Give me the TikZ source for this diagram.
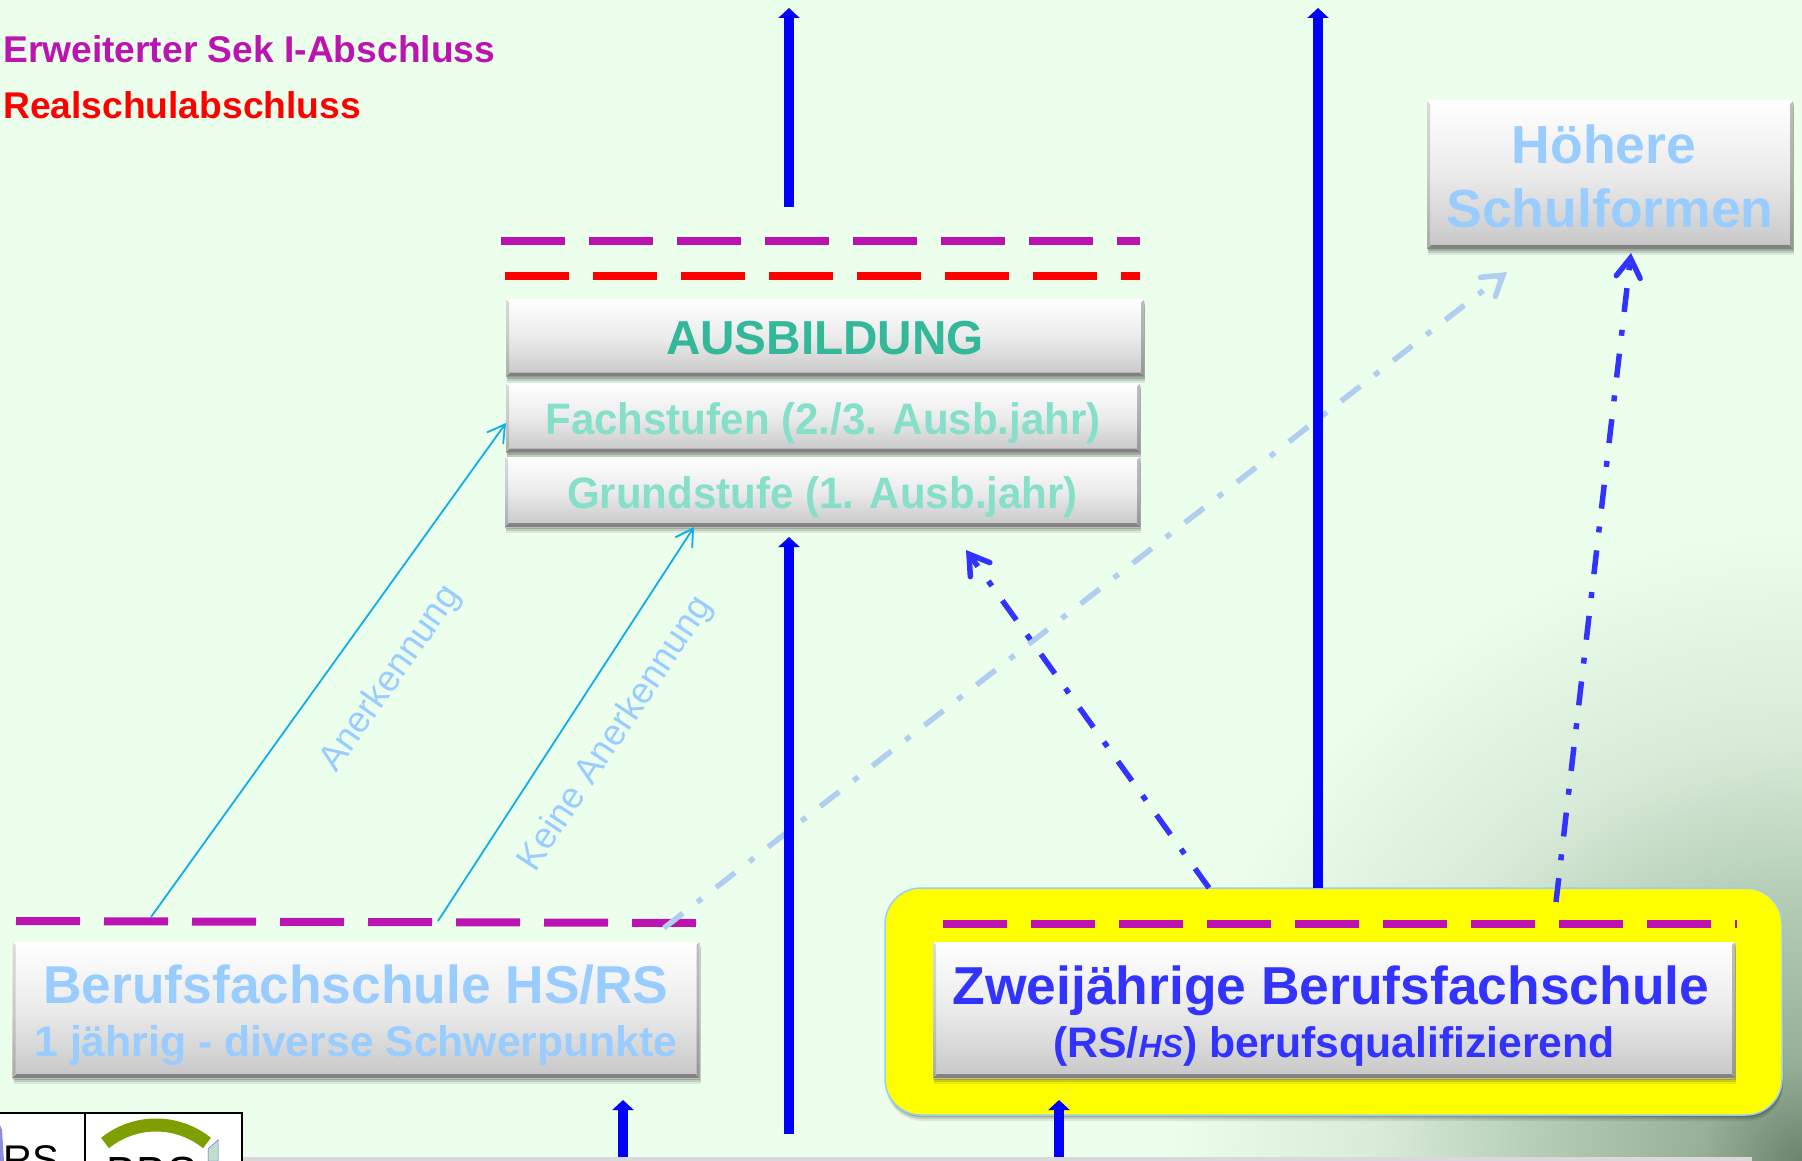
\documentclass[tikz,border=0pt]{standalone}
\usepackage{graphicx}
\usepackage{fontspec}
\setmainfont{Liberation Sans}
\usetikzlibrary{arrows.meta,shadows}
\definecolor{bgc}{HTML}{ECFFEC}
\definecolor{sA}{HTML}{6B836C}
\definecolor{sB}{HTML}{96AF97}
\definecolor{sC}{HTML}{B8D0B9}
\definecolor{sD}{HTML}{D8EBD8}
\definecolor{purp}{HTML}{BC14B0}
\definecolor{lblue}{HTML}{99CCFF}
\definecolor{dblue}{HTML}{3333FF}
\definecolor{pureblue}{HTML}{0000FF}
\definecolor{purered}{HTML}{FF0000}
\definecolor{yelfill}{HTML}{FFFF00}
\definecolor{paleline}{HTML}{B0CEF0}
\definecolor{cyanl}{HTML}{10AEE8}
\definecolor{teal}{HTML}{33B89A}
\definecolor{lteal}{HTML}{86DFC9}
\definecolor{olive}{HTML}{7F9F00}
\definecolor{logoflag}{HTML}{C0E0C8}
\definecolor{logoside}{HTML}{8C8CE0}
\pgfdeclareradialshading{cornerglow}{\pgfpoint{0bp}{0bp}}{%
 color(0bp)=(sA); color(3.9bp)=(sB); color(11bp)=(sC); color(16.5bp)=(sD); color(25bp)=(bgc); color(50bp)=(bgc)}
\newcommand{\fs}[1]{\fontsize{#1pt}{#1pt}\selectfont\bfseries}
\tikzset{
 x=1pt,y=-1pt,
 softshadow/.style={
  general shadow={shadow xshift=1pt,shadow yshift=-6pt,fill=black,opacity=.08},
  general shadow={shadow xshift=1pt,shadow yshift=-4pt,fill=black,opacity=.12},
  general shadow={shadow xshift=.5pt,shadow yshift=-2pt,fill=black,opacity=.16}},
 bevelbox/.style={rectangle,inner sep=0pt,align=center,softshadow,
  top color=white,bottom color=black!22,middle color=black!8,
  path picture={
   \fill[black,opacity=.35] (path picture bounding box.south west) -- (path picture bounding box.south east)
     -- ([shift={(-4pt,4pt)}]path picture bounding box.south east) -- ([shift={(4pt,4pt)}]path picture bounding box.south west) -- cycle;
   \fill[black,opacity=.14] (path picture bounding box.south west) -- (path picture bounding box.north west)
     -- ([shift={(3pt,-3pt)}]path picture bounding box.north west) -- ([shift={(3pt,4pt)}]path picture bounding box.south west) -- cycle;
   \fill[black,opacity=.25] (path picture bounding box.south east) -- (path picture bounding box.north east)
     -- ([shift={(-3pt,-3pt)}]path picture bounding box.north east) -- ([shift={(-3pt,4pt)}]path picture bounding box.south east) -- cycle;
  }},
 dashline/.style={line width=8pt,dash pattern=on 64pt off 24pt},
 mainarrow/.style={pureblue,line width=10.5pt,-{Triangle[width=21pt,length=10pt]}},
 thinarrow/.style={cyanl,line width=1.8pt,-{Straight Barb[width=20pt,length=17pt,line width=1.8pt]}},
 dotarrow/.style={line width=5.5pt,dash pattern=on 24pt off 18pt on 6pt off 18pt,-{Straight Barb[width=24pt,length=19pt,line width=5.5pt,line cap=round,line join=miter]}},
 turnlabel/.style={text=lblue,inner sep=0pt,font=\fontsize{36.6}{36.6}\selectfont},
 legend/.style={anchor=west,inner sep=0pt},
}
\newcommand{\lineA}{\rule[-12pt]{0pt}{62pt}}
\newcommand{\lineB}{\rule[-9pt]{0pt}{49pt}}
\newcommand{\lineC}{\rule{0pt}{43pt}}
\begin{document}
\begin{tikzpicture}
\useasboundingbox (0,0) rectangle (1802,1161);
\fill[bgc] (0,0) rectangle (1802,1161);
\begin{scope}
 \clip (0,0) rectangle (1802,1161);
 \shade[shading=cornerglow] (1802,1161) circle[radius=640pt];
 \fill[black!15] (242,1157) rectangle (1752,1161);
 % logo
 \fill[white] (0,1113) rectangle (241,1161);
 \node[inner sep=0pt,anchor=north west,font=\fontsize{40}{40}\selectfont] (logoa) at (3,1145) {RS};
 \fill[logoside] (0,1125) -- (2,1130) -- (4,1161) -- (0,1161) -- cycle;
 \draw[olive,line width=13pt] (105,1143) .. controls (135,1119) and (177,1119) .. (207,1143);
 \node[inner sep=0pt,anchor=north,font=\fontsize{45}{45}\selectfont] (logob) at (152,1157) {BBS};
 \filldraw[fill=logoflag,draw=blue!60,line width=.5pt] (208,1149) -- (218,1140) -- (218,1161) -- (208,1161) -- cycle;
 \draw[black,line width=2pt] (0,1113) -- (241.5,1113) -- (241.5,1161) (85,1113) -- (85,1161);
\end{scope}
% yellow
\node[rectangle,rounded corners=36pt,fill=yelfill,draw=lblue,line width=1.5pt,softshadow,minimum width=897pt,minimum height=227pt,inner sep=0pt] (gelb) at (1333.5,1001.5) {};
% coordinates
\coordinate (a1s) at (789,207); \coordinate (a1e) at (789,8);
\coordinate (a2s) at (1318,888); \coordinate (a2e) at (1318,8);
\coordinate (a3s) at (789,1134); \coordinate (a3e) at (789,537);
\coordinate (a4s) at (623,1157); \coordinate (a4e) at (623,1100);
\coordinate (a5s) at (1059,1157); \coordinate (a5e) at (1059,1100);
\coordinate (t1s) at (151,917); \coordinate (t1e) at (506,423);
\coordinate (t2s) at (438,921); \coordinate (t2e) at (694,527);
\coordinate (d1s) at (664,928); \coordinate (d1e) at (1507,272);
\coordinate (d2s) at (1209,888); \coordinate (d2e) at (966,550);
\coordinate (d3s) at (1556,902); \coordinate (d3e) at (1631,253);
\coordinate (p1s) at (501,241); \coordinate (p1e) at (1140,241);
\coordinate (r1s) at (504.5,276); \coordinate (r1e) at (1140,276);
\coordinate (p2s) at (16,921); \coordinate (p2e) at (696,923);
\coordinate (p3s) at (943,924); \coordinate (p3e) at (1737,924);
% boxes
\node[bevelbox,text=teal,minimum width=638pt,minimum height=77pt] (ausb) at (825,338) {\fs{47.7}AUSBILDUNG};
\node[bevelbox,text=lteal,minimum width=634pt,minimum height=69pt] (fach) at (823,418) {\lineC\scalebox{.955}[1]{\fs{44}Fachstufen (2./3. Ausb.jahr)}};
\node[bevelbox,text=lteal,minimum width=635pt,minimum height=70pt] (grund) at (822.5,492) {\lineC\scalebox{.955}[1]{\fs{44}Grundstufe (1. Ausb.jahr)}};
\node[bevelbox,text=lblue,minimum width=366pt,minimum height=148pt] (hoehere) at (1610,175) {\fs{53.5}\hspace*{-12pt}\rule[-10pt]{0pt}{54pt}Höhere\\\fs{53.5}\rule[-2pt]{0pt}{55pt}Schulformen};
\node[bevelbox,text=lblue,minimum width=687pt,minimum height=136pt] (bfs) at (356,1010) {\fs{53.3}\lineA Berufsfachschule HS/RS\\\fs{42.7}\lineB 1 jährig - diverse Schwerpunkte};
\node[bevelbox,text=dblue,minimum width=802pt,minimum height=136pt] (zwei) at (1334,1010) {\fs{53.4}\hspace*{-6pt}\lineA Zweijährige Berufsfachschule\\\fs{42.7}\lineB (RS/{\fontsize{32}{32}\selectfont\itshape HS}) berufsqualifizierend};
% dashed rules
\draw[purp,dashline] (p1s) -- (p1e);
\draw[purered,dashline] (r1s) -- (r1e);
\draw[purp,dashline] (p2s) -- (p2e);
\draw[purp,dashline] (p3s) -- (p3e);
% connectors
\draw[paleline,dotarrow] (d1s) -- (d1e);
\draw[dblue,dotarrow] (d2s) -- (d2e);
\draw[dblue,dotarrow] (d3s) -- (d3e);
\draw[mainarrow] (a1s) -- (a1e);
\draw[mainarrow] (a2s) -- (a2e);
\draw[mainarrow] (a3s) -- (a3e);
\draw[mainarrow] (a4s) -- (a4e);
\draw[mainarrow] (a5s) -- (a5e);
\draw[thinarrow] (t1s) -- (t1e);
\draw[thinarrow] (t2s) -- (t2e);
% labels
\node[turnlabel,rotate=55] (lanerk) at (391,679) {Anerkennung};
\node[turnlabel,rotate=56.5] (lkeine) at (616,734) {Keine Anerkennung};
\node[legend,text=purp] (leg1) at (3,49) {\fs{37.2}Erweiterter Sek I-Abschluss};
\node[legend,text=purered] (leg2) at (3,105) {\fs{37.2}Realschulabschluss};
\end{tikzpicture}
\end{document}
